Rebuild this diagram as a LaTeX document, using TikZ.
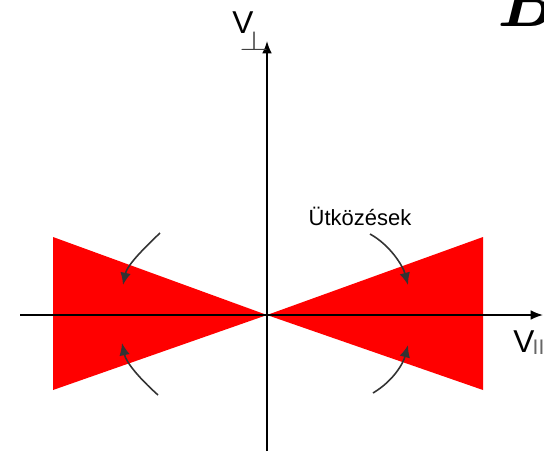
\documentclass[tikz,border=0pt]{standalone}
\usepackage{fontspec}
\setsansfont{Liberation Sans}
\usetikzlibrary{arrows.meta}

\begin{document}
\begin{tikzpicture}[x=0.02cm,y=-0.02cm,
  axis/.style={line width=0.9pt,-{Latex[length=7pt,width=5.5pt]}},
  hit/.style={line width=0.9pt,black!80,-{Latex[length=7pt,width=6pt]}},
  lbl/.style={font=\sffamily\fontsize{18}{20}\selectfont,inner sep=0pt,anchor=base west}]
\useasboundingbox (0,0) rectangle (544,451);
\clip (0,0) rectangle (544,451);
% cones
\coordinate (o) at (267,315);
\fill[red] (53,237) -- (53,390) -- (o) -- cycle;
\fill[red] (483,237) -- (483,390) -- (o) -- cycle;
% axes
\coordinate (xs) at (20,315);
\coordinate (xe) at (543,315);
\coordinate (ys) at (267,451);
\coordinate (ye) at (267,41);
\draw[axis] (xs)--(xe);
\draw[axis] (ys)--(ye);
\node[lbl] (vperp) at (232,33) {V\kern-8pt\raisebox{-9.7pt}{\color{black!75}\scalebox{1.5}[1.1]{\fontsize{15}{16}\selectfont$\perp$}}};
\node[lbl] (vpar) at (513,352) {V\kern-1pt\raisebox{-1.7pt}{\color{black!60}\fontsize{12}{13}\selectfont II}};
\node[font=\sffamily\fontsize{12.5}{14}\selectfont] (hitlbl) at (360,216) {Ütközések};
% collisions
\coordinate (a1) at (160,233);
\coordinate (a2) at (123,285);
\coordinate (b1) at (158,395);
\coordinate (b2) at (122,343);
\coordinate (c1) at (370,234);
\coordinate (c2) at (408,285);
\coordinate (d1) at (373,393);
\coordinate (d2) at (408,345);
\draw[hit] (a1) .. controls (140,252) and (127,266) .. (a2);
\draw[hit] (b1) .. controls (138,377) and (126,362) .. (b2);
\draw[hit] (c1) .. controls (390,245) and (403,266) .. (c2);
\draw[hit] (d1) .. controls (393,381) and (403,364) .. (d2);
% cut-off heading
\node[anchor=base west,inner sep=0pt,font=\fontsize{40}{44}\selectfont\bfseries\itshape] (head) at (496,26) {B\raisebox{-2pt}{\fontsize{14}{16}\selectfont\upshape I}};
\end{tikzpicture}
\end{document}
